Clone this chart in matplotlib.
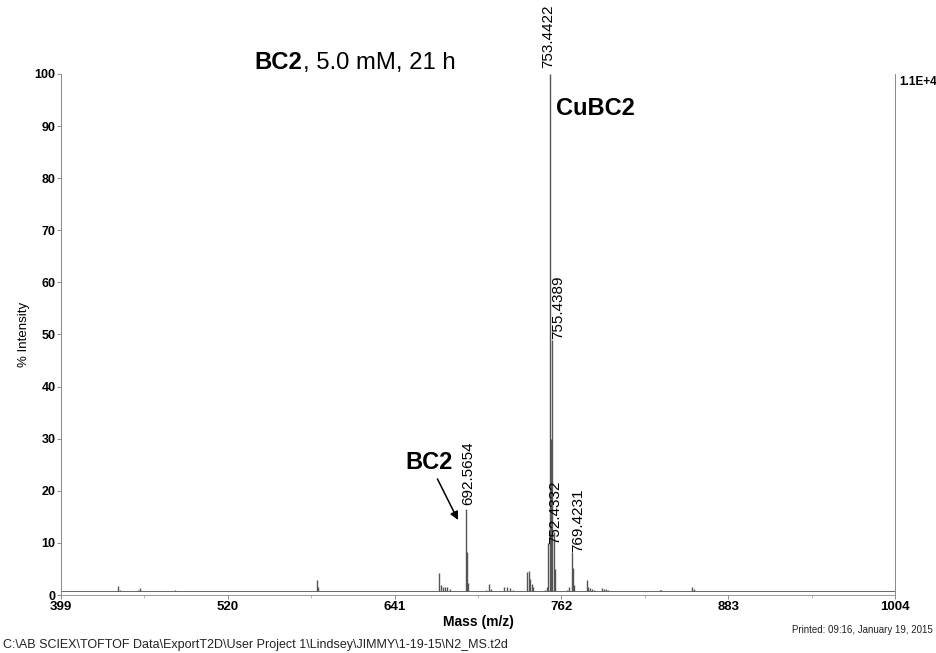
import matplotlib
matplotlib.use("Agg")
import matplotlib.pyplot as plt

plt.rcParams['font.family'] = ['Liberation Sans', 'DejaVu Sans']

# peak list: m/z and % intensity
peak_mz = [440.6, 441.5, 455.0, 456.2, 482.0,
           584.5, 585.5,
           673.5, 674.5, 676.0, 677.5, 679.0, 681.0,
           692.57, 693.57, 694.6,
           707.0, 709.6, 711.0,
           720.5, 722.7, 724.8, 727.0,
           737.0, 738.6, 739.5, 740.5, 741.5,
           750.4, 751.4, 752.43, 753.44, 754.44, 755.44, 756.44, 757.4,
           766.0, 767.5, 769.42, 770.42, 771.4,
           780.4, 781.5, 782.5, 784.0, 786.0,
           791.6, 793.0, 794.5, 796.0,
           833.7, 834.5, 857.0, 858.0]
peak_int = [1.7, 0.9, 0.9, 1.3, 0.9,
            2.9, 1.5,
            4.2, 1.9, 1.5, 1.6, 1.5, 1.2,
            16.5, 8.3, 2.3,
            1.0, 2.1, 1.2,
            1.6, 1.5, 1.3, 1.0,
            4.5, 4.6, 3.0, 2.2, 1.5,
            1.0, 1.5, 10.0, 100.0, 30.0, 49.0, 12.0, 5.0,
            1.0, 1.5, 8.2, 5.2, 2.0,
            2.9, 1.5, 1.4, 1.2, 1.0,
            1.4, 1.1, 1.2, 1.0,
            0.9, 0.9, 1.6, 1.1]
baseline_level = 0.7

# labelled peaks: text, m/z, height, pixel offset of label
label_text = ['753.4422', '755.4389', '692.5654', '752.4332', '769.4231']
label_mz = [753.44, 755.44, 692.57, 752.43, 769.42]
label_int = [100.0, 49.0, 16.5, 10.0, 8.2]
label_dx = [-1, 6, 3, 7, 7]
label_dy = [6, 1, 4, -1, 0]

x_ticks = [399, 520, 641, 762, 883, 1004]
y_ticks = [0, 10, 20, 30, 40, 50, 60, 70, 80, 90, 100]

fig = plt.figure(figsize=(9.37, 6.53), dpi=100)
ax = fig.add_axes([0.0651, 0.0888, 0.8900, 0.7979])

ax.axhline(baseline_level, color='#666666', lw=0.7)
ax.vlines(peak_mz, baseline_level, peak_int, color='#555555', lw=1.0)

ax.set_xlim(399, 1004)
ax.set_ylim(0, 100)
ax.set_xticks(x_ticks)
ax.set_yticks(y_ticks)
ax.set_xticklabels([str(t) for t in x_ticks], fontweight='bold', fontsize=9.5)
ax.set_yticklabels([str(t) for t in y_ticks], fontweight='bold', fontsize=9)
ax.tick_params(axis='both', length=3, width=0.6, color='#777777', pad=1)
ax.tick_params(axis='x', pad=1.5)
ax.set_xticks([459.5, 580.5, 701.5, 822.5, 943.5], minor=True)
ax.tick_params(axis='x', which='minor', length=2, width=0.5, color='#999999')

ax.spines['top'].set_visible(False)
ax.spines['left'].set_color('#888888')
ax.spines['right'].set_color('#888888')
ax.spines['bottom'].set_color('#999999')
ax.spines['bottom'].set_linestyle((0, (3, 1)))
for s in ['left', 'right', 'bottom']:
    ax.spines[s].set_linewidth(0.7)

ax.set_xlabel('Mass (m/z)', fontweight='bold', fontsize=10, labelpad=1)
ax.set_ylabel('% Intensity', fontsize=9.5, labelpad=3)

for txt, mz, h, dx, dy in zip(label_text, label_mz, label_int, label_dx, label_dy):
    ax.annotate(txt, xy=(mz, h), xytext=(dx, dy), textcoords='offset pixels',
                rotation=90, ha='center', va='bottom', fontsize=11,
                annotation_clip=False)

ax.text(758.2, 93.3, 'CuBC2', fontweight='bold', fontsize=17, ha='left', va='center')
ax.annotate('BC2', xy=(687.0, 14.4), xytext=(666.0, 25.5),
            fontweight='bold', fontsize=17, ha='center', va='center',
            arrowprops=dict(arrowstyle='-|>', color='black', lw=1.1,
                            shrinkA=2, shrinkB=0, mutation_scale=12))

ax.text(1.005, 0.985, '1.1E+4', transform=ax.transAxes, fontsize=8.5,
        fontweight='bold', ha='left', va='center')

# title with bold compound name
t1 = fig.text(0.272, 0.894, 'BC2', fontweight='bold', fontsize=17.2, ha='left', va='baseline')
fig.canvas.draw()
ax.annotate(', 5.0 mM, 21 h', xy=(1, 0), xycoords=t1, fontsize=17.2,
            ha='left', va='bottom')

fig.text(0.003, 0.003,
         'C:\\AB SCIEX\\TOFTOF Data\\ExportT2D\\User Project 1\\Lindsey\\JIMMY\\1-19-15\\N2_MS.t2d',
         fontsize=9, ha='left', va='bottom', color='#222222')
fig.text(0.995, 0.028, 'Printed: 09:16, January 19, 2015',
         fontsize=7, ha='right', va='bottom', color='#222222')

fig.savefig('out.png', dpi=100)
